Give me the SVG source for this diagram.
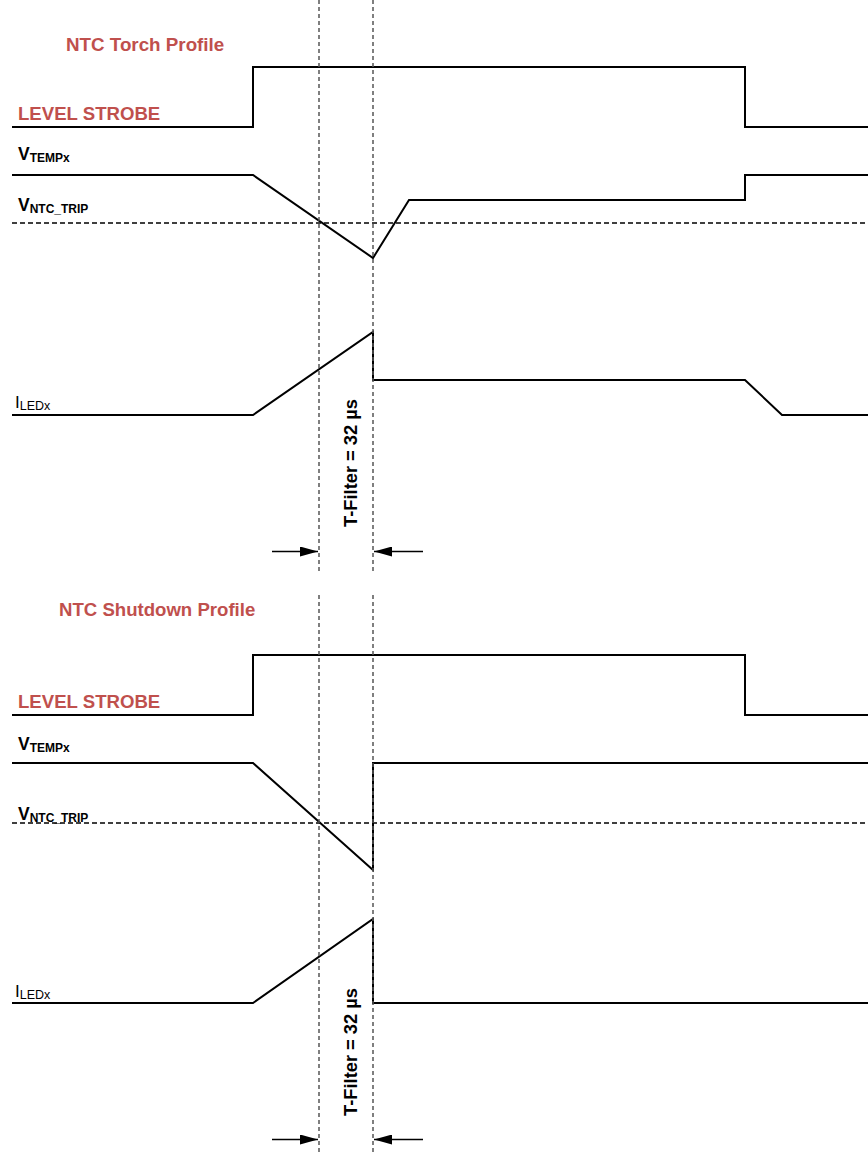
<svg xmlns="http://www.w3.org/2000/svg" width="868" height="1154" viewBox="0 0 868 1154">
<style>
.tr{fill:none;stroke:#000;stroke-width:2;stroke-linejoin:miter}
.hd{fill:none;stroke:#000;stroke-width:1.3;stroke-dasharray:5,3}
.vd{fill:none;stroke:#555;stroke-width:1.5;stroke-dasharray:4,3}
.ar{fill:none;stroke:#000;stroke-width:1.3}
.red{font-family:"Liberation Sans",Arial,sans-serif;font-weight:bold;fill:#c0504d}
.lb{font-family:"Liberation Sans",Arial,sans-serif;font-weight:bold;fill:#000}
.ln{font-family:"Liberation Sans",Arial,sans-serif;fill:#000}
</style>
<defs>
<marker id="ah" viewBox="0 0 18 10" refX="18" refY="5" markerWidth="18" markerHeight="10" markerUnits="userSpaceOnUse" orient="auto">
<path d="M0,0 L18,5 L0,10 Z" fill="#000"/>
</marker>
</defs>

<g id="torch-profile">
<text class="red" x="66" y="51" font-size="18.8">NTC Torch Profile</text>
<g id="torch-strobe">
<text class="red" x="18" y="120" font-size="18.6">LEVEL STROBE</text>
<path class="tr" d="M12,127 H253 V67 H745 V127 H868"/>
</g>
<g id="torch-vtemp">
<text class="lb" x="18" y="160" font-size="17.5">V<tspan font-size="12" dy="2">TEMPx</tspan></text>
<path class="tr" d="M12,175 H253 L373,258 L409,200 H745 V175 H868"/>
</g>
<g id="torch-vtrip">
<text class="lb" x="18" y="211" font-size="17.5">V<tspan font-size="12" dy="2">NTC_TRIP</tspan></text>
<path class="hd" d="M12,223 H868"/>
</g>
<g id="torch-iled">
<text class="ln" x="15" y="408" font-size="17">I<tspan font-size="12.5" dy="2">LEDx</tspan></text>
<path class="tr" d="M12,415 H253 L373,332 V380 H745 L782,415 H868"/>
</g>
<text class="lb" font-size="18.3" transform="translate(357,463) rotate(-90)" text-anchor="middle">T-Filter = 32 µs</text>
</g>

<g id="shutdown-profile">
<text class="red" x="59" y="616" font-size="18.6">NTC Shutdown Profile</text>
<g id="shutdown-strobe">
<text class="red" x="18" y="708" font-size="18.6">LEVEL STROBE</text>
<path class="tr" d="M12,715 H253 V655 H745 V715 H868"/>
</g>
<g id="shutdown-vtemp">
<text class="lb" x="18" y="750" font-size="17.5">V<tspan font-size="12" dy="2">TEMPx</tspan></text>
<path class="tr" d="M12,763 H253 L373,870 V763 H868"/>
</g>
<g id="shutdown-vtrip">
<text class="lb" x="18" y="820" font-size="17.5">V<tspan font-size="12" dy="2">NTC_TRIP</tspan></text>
<path class="hd" d="M12,823 H868"/>
</g>
<g id="shutdown-iled">
<text class="ln" x="15" y="997" font-size="17">I<tspan font-size="12.5" dy="2">LEDx</tspan></text>
<path class="tr" d="M12,1003 H253 L373,919 V1003 H868"/>
</g>
<text class="lb" font-size="18.3" transform="translate(357,1052) rotate(-90)" text-anchor="middle">T-Filter = 32 µs</text>
</g>

<g id="connectors">
<path class="vd" d="M319,0 V572 M373,0 V572"/>
<path class="vd" d="M319,595 V1154 M373,595 V1154"/>
<path class="ar" d="M272,551.5 H318" marker-end="url(#ah)"/>
<path class="ar" d="M423,551.5 H374" marker-end="url(#ah)"/>
<path class="ar" d="M272,1139.5 H318" marker-end="url(#ah)"/>
<path class="ar" d="M423,1139.5 H374" marker-end="url(#ah)"/>
</g>
</svg>
